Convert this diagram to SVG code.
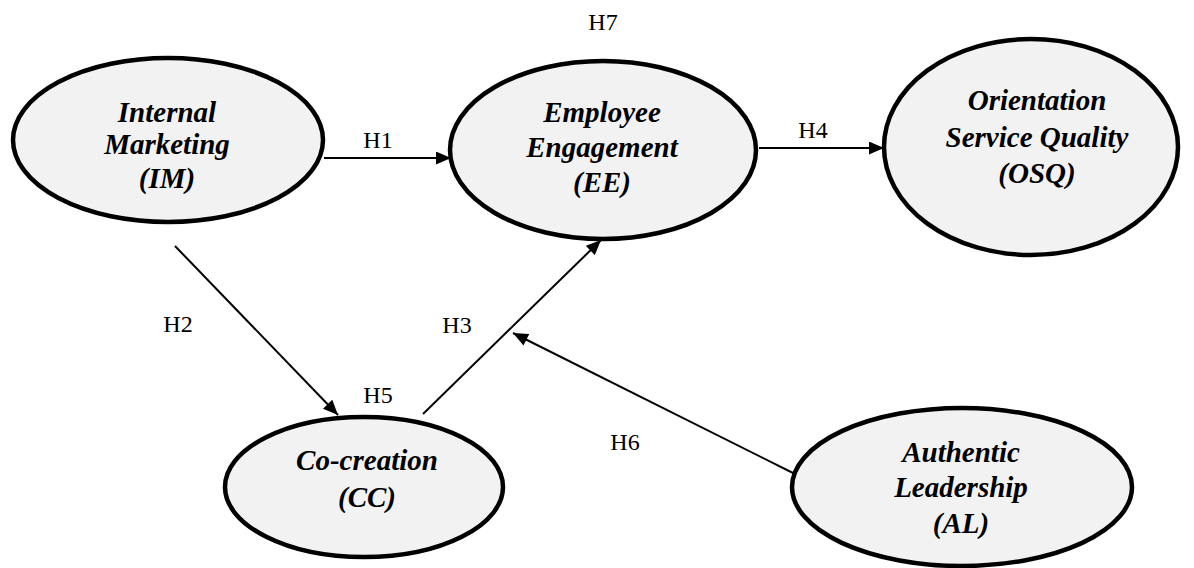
<svg xmlns="http://www.w3.org/2000/svg" width="1194" height="568" viewBox="0 0 1194 568">
  <defs>
    <marker id="arrow" viewBox="0 0 15 13" refX="15" refY="6.5" markerWidth="7.5" markerHeight="6.5" markerUnits="strokeWidth" orient="auto">
      <path d="M0,0 L15,6.5 L0,13 Z" fill="#000"/>
    </marker>
  </defs>
  <style>
    .node ellipse { fill: #f2f2f2; stroke: #000; stroke-width: 4.5; }
    .node text { font-family: "Liberation Serif", "Times New Roman", serif; font-size: 29px; font-weight: bold; font-style: italic; text-anchor: middle; fill: #000; }
    .edge { stroke: #000; stroke-width: 2; fill: none; marker-end: url(#arrow); }
    .label { font-family: "Liberation Serif", "Times New Roman", serif; font-size: 24px; fill: #000; text-anchor: middle; }
  </style>
  <rect width="1194" height="568" fill="#fff"/>

  <!-- connectors -->
  <g id="connectors">
    <line class="edge" x1="324" y1="158" x2="451" y2="158"/>
    <line class="edge" x1="759" y1="148" x2="884" y2="148"/>
    <line class="edge" x1="175" y1="246" x2="338" y2="415"/>
    <line class="edge" x1="423" y1="414" x2="601" y2="240"/>
    <line class="edge" x1="797" y1="475" x2="513" y2="333"/>
  </g>

  <!-- hypothesis labels -->
  <g id="labels">
    <text class="label" x="603" y="30">H7</text>
    <text class="label" x="378" y="148">H1</text>
    <text class="label" x="813" y="138">H4</text>
    <text class="label" x="178" y="332">H2</text>
    <text class="label" x="457" y="333">H3</text>
    <text class="label" x="378" y="403">H5</text>
    <text class="label" x="625" y="450">H6</text>
  </g>

  <g id="node-im" class="node">
    <ellipse cx="168" cy="140" rx="155" ry="82"/>
    <text x="167" y="122">Internal</text>
    <text x="167" y="154">Marketing</text>
    <text x="167" y="188">(IM)</text>
  </g>

  <g id="node-ee" class="node">
    <ellipse cx="603" cy="150" rx="153" ry="89"/>
    <text x="602" y="122">Employee</text>
    <text x="602" y="157">Engagement</text>
    <text x="602" y="192">(EE)</text>
  </g>

  <g id="node-osq" class="node">
    <ellipse cx="1031" cy="147" rx="147" ry="108"/>
    <text x="1037" y="110">Orientation</text>
    <text x="1037" y="147">Service Quality</text>
    <text x="1037" y="183">(OSQ)</text>
  </g>

  <g id="node-cc" class="node">
    <ellipse cx="364" cy="487" rx="139" ry="70"/>
    <text x="367" y="470">Co-creation</text>
    <text x="367" y="507">(CC)</text>
  </g>

  <g id="node-al" class="node">
    <ellipse cx="962" cy="487" rx="170" ry="79"/>
    <text x="961" y="462">Authentic</text>
    <text x="961" y="497">Leadership</text>
    <text x="961" y="533">(AL)</text>
  </g>
</svg>
